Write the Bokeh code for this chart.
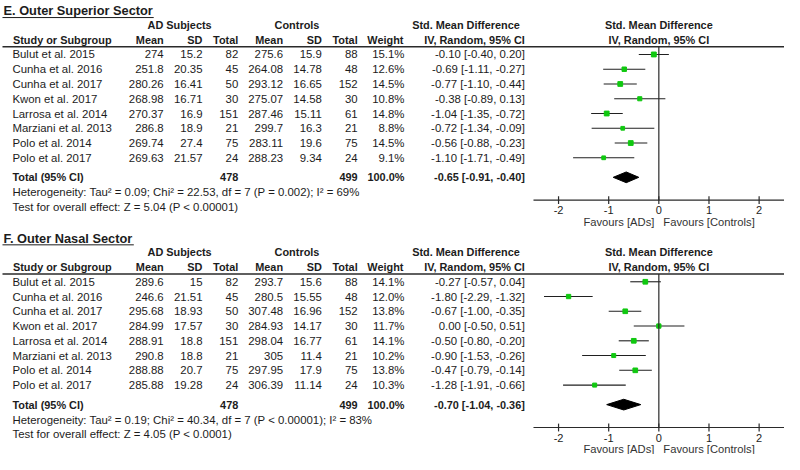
from bokeh.plotting import figure
from bokeh.models import Range1d
from bokeh.embed import file_html
from bokeh.resources import INLINE
from bokeh.core.properties import value

# ---------------- data ----------------
studies = ["Bulut et al. 2015", "Cunha et al. 2016", "Cunha et al. 2017", "Kwon et al. 2017",
           "Larrosa et al. 2014", "Marziani et al. 2013", "Polo et al. 2014", "Polo et al. 2017"]

ad_n = [82, 45, 50, 30, 151, 21, 75, 24]
ct_n = [88, 48, 152, 30, 61, 21, 75, 24]
ad_total = 478
ct_total = 499

# E. Outer Superior Sector
E_ad_mean = ["274", "251.8", "280.26", "268.98", "270.37", "286.8", "269.74", "269.63"]
E_ad_sd = ["15.2", "20.35", "16.41", "16.71", "16.9", "18.9", "27.4", "21.57"]
E_ct_mean = ["275.6", "264.08", "293.12", "275.07", "287.46", "299.7", "283.11", "288.23"]
E_ct_sd = ["15.9", "14.78", "16.65", "14.58", "15.11", "16.3", "19.6", "9.34"]
E_weight = [15.1, 12.6, 14.5, 10.8, 14.8, 8.8, 14.5, 9.1]
E_smd = [-0.10, -0.69, -0.77, -0.38, -1.04, -0.72, -0.56, -1.10]
E_lo = [-0.40, -1.11, -1.10, -0.89, -1.35, -1.34, -0.88, -1.71]
E_hi = [0.20, -0.27, -0.44, 0.13, -0.72, -0.09, -0.23, -0.49]
E_overall = [-0.65, -0.91, -0.40]
E_het = "Heterogeneity: Tau\u00b2 = 0.09; Chi\u00b2 = 22.53, df = 7 (P = 0.002); I\u00b2 = 69%"
E_test = "Test for overall effect: Z = 5.04 (P < 0.00001)"

# F. Outer Nasal Sector
F_ad_mean = ["289.6", "246.6", "295.68", "284.99", "288.91", "290.8", "288.88", "285.88"]
F_ad_sd = ["15", "21.51", "18.93", "17.57", "18.8", "18.8", "20.7", "19.28"]
F_ct_mean = ["293.7", "280.5", "307.48", "284.93", "298.04", "305", "297.95", "306.39"]
F_ct_sd = ["15.6", "15.55", "16.96", "14.17", "16.77", "11.4", "17.9", "11.14"]
F_weight = [14.1, 12.0, 13.8, 11.7, 14.1, 10.2, 13.8, 10.3]
F_smd = [-0.27, -1.80, -0.67, 0.00, -0.50, -0.90, -0.47, -1.28]
F_lo = [-0.57, -2.29, -1.00, -0.50, -0.80, -1.53, -0.79, -1.91]
F_hi = [0.04, -1.32, -0.35, 0.51, -0.20, -0.26, -0.14, -0.66]
F_overall = [-0.70, -1.04, -0.36]
F_het = "Heterogeneity: Tau\u00b2 = 0.19; Chi\u00b2 = 40.34, df = 7 (P < 0.00001); I\u00b2 = 83%"
F_test = "Test for overall effect: Z = 4.05 (P < 0.0001)"

ticks = [-2, -1, 0, 1, 2]
tick_labels = ["-2", "-1", "0", "1", "2"]
axis_limits = [-2.5, 2.5]

# ---------------- layout / style ----------------
FONT = value("Liberation Sans")
TXT = "#1c1c1c"
BODY = "11.4px"
HEAD = "10.9px"
GREEN = "#10c810"

ZERO_PX = 661.7
PX_PER_UNIT = 50.4
X0, X1 = 0, 788

p = figure(width=784, height=454, x_range=Range1d(X0, X1), y_range=Range1d(468, 2),
           x_axis_type=None, y_axis_type=None, output_backend="svg",
           toolbar_location=None, min_border=0)
p.grid.visible = False
p.outline_line_color = None
p.extra_x_ranges = {"smd": Range1d((X0 - ZERO_PX) / PX_PER_UNIT, (X1 - ZERO_PX) / PX_PER_UNIT)}


def txt(xs, ys, texts, align="left", bold=False, size=BODY, color=TXT, rng="default"):
    p.text(x=xs, y=ys, text=texts, text_align=align, text_baseline="middle",
           text_font=FONT, text_font_style="bold" if bold else "normal",
           text_font_size=size, text_color=color, x_range_name=rng)


def panel(off, title, ul_end, ad_mean, ad_sd, ct_mean, ct_sd, weight, smd, lo, hi, overall, het, test):
    # title
    txt([3], [off + 12.5], [title], bold=True, size="12.8px")
    p.segment(x0=[2], x1=[ul_end], y0=[off + 19.5], y1=[off + 19.5], line_color=TXT, line_width=1)
    # headers
    h1, h2 = off + 27, off + 42.5
    txt([180], [h1], ["AD Subjects"], align="center", bold=True, size=HEAD)
    txt([298], [h1], ["Controls"], align="center", bold=True, size=HEAD)
    txt([522], [h1], ["Std. Mean Difference"], align="right", bold=True, size=HEAD)
    txt([ZERO_PX], [h1], ["Std. Mean Difference"], align="center", bold=True, size=HEAD)
    txt([12.5], [h2], ["Study or Subgroup"], bold=True, size=HEAD)
    txt([164, 203, 239, 284, 323, 359, 405], [h2] * 7,
        ["Mean", "SD", "Total", "Mean", "SD", "Total", "Weight"], align="right", bold=True, size=HEAD)
    txt([527], [h2], ["IV, Random, 95% CI"], align="right", bold=True, size=HEAD)
    txt([ZERO_PX], [h2], ["IV, Random, 95% CI"], align="center", bold=True, size=HEAD)
    p.segment(x0=[2], x1=[800], y0=[off + 49.5], y1=[off + 49.5], line_color="#2a2a2a", line_width=1.6)

    rows = [off + 57.4 + 15.15 * i for i in range(len(studies))]
    txt([12] * len(rows), rows, studies)
    txt([164] * len(rows), rows, ad_mean, align="right")
    txt([203] * len(rows), rows, ad_sd, align="right")
    txt([239] * len(rows), rows, [str(n) for n in ad_n], align="right")
    txt([284] * len(rows), rows, ct_mean, align="right")
    txt([323] * len(rows), rows, ct_sd, align="right")
    txt([359] * len(rows), rows, [str(n) for n in ct_n], align="right")
    txt([406] * len(rows), rows, ["%.1f%%" % w for w in weight], align="right")
    ci = ["%.2f [%.2f, %.2f]" % (m, a, b) for m, a, b in zip(smd, lo, hi)]
    txt([527] * len(rows), rows, ci, align="right")

    # forest marks
    p.segment(x0=lo, x1=hi, y0=rows, y1=rows, x_range_name="smd", line_color="#202020", line_width=1.1)
    p.scatter(x=smd, y=rows, marker="square", size=[1.25 * w ** 0.5 for w in weight],
              x_range_name="smd", fill_color=GREEN, line_color=GREEN)

    # totals
    ty = off + 183.5
    txt([12], [ty], ["Total (95% CI)"], bold=True, size=HEAD)
    txt([239, 359, 406], [ty] * 3, [str(ad_total), str(ct_total), "100.0%"], align="right", bold=True, size=HEAD)
    txt([527], [ty], ["%.2f [%.2f, %.2f]" % tuple(overall)], align="right", bold=True, size=HEAD)
    est, olo, ohi = overall
    p.patch(x=[olo, est, ohi, est], y=[ty, ty - 5.5, ty, ty + 5.5], x_range_name="smd",
            fill_color="black", line_color="black", line_width=1)
    txt([12], [off + 199], [het])
    txt([12], [off + 213.5], [test])

    # axis
    ay = off + 207
    p.segment(x0=[0], x1=[0], y0=[off + 49.5], y1=[ay], x_range_name="smd", line_color="#2a2a2a", line_width=1.2)
    p.segment(x0=[axis_limits[0]], x1=[axis_limits[1]], y0=[ay], y1=[ay], x_range_name="smd",
              line_color="#2a2a2a", line_width=1.2)
    p.segment(x0=ticks, x1=ticks, y0=[ay - 4] * len(ticks), y1=[ay + 4] * len(ticks), x_range_name="smd",
              line_color="#2a2a2a", line_width=1.2)
    txt(ticks, [off + 217.5] * len(ticks), tick_labels, align="center", size="11px", rng="smd")
    txt([-0.09], [off + 229.5], ["Favours [ADs]"], align="right", size="11.2px", color="#333333", rng="smd")
    txt([0.09], [off + 229.5], ["Favours [Controls]"], align="left", size="11.2px", color="#333333", rng="smd")


panel(0, "E. Outer Superior Sector", 154, E_ad_mean, E_ad_sd, E_ct_mean, E_ct_sd, E_weight,
      E_smd, E_lo, E_hi, E_overall, E_het, E_test)
panel(233.3, "F. Outer Nasal Sector", 134, F_ad_mean, F_ad_sd, F_ct_mean, F_ct_sd, F_weight,
      F_smd, F_lo, F_hi, F_overall, F_het, F_test)

open("out.html", "w").write(file_html(p, INLINE))
